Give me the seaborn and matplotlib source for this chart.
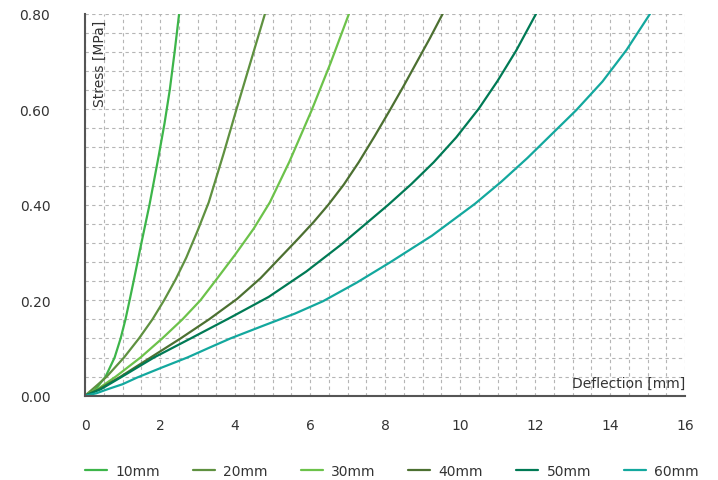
import matplotlib
matplotlib.use("Agg")
import matplotlib.pyplot as plt
import seaborn as sns
import pandas as pd
import numpy as np

# Stress-deflection curves per foam thickness
series = ["10mm", "20mm", "30mm", "40mm", "50mm", "60mm"]

x_10 = [0, 0.15, 0.28, 0.55, 0.79, 0.95, 1.08, 1.19, 1.31, 1.51, 1.72, 1.96, 2.12, 2.26, 2.39, 2.51]
y_10 = [0, 0.005, 0.0135, 0.04, 0.08, 0.12, 0.16, 0.20, 0.245, 0.322, 0.40, 0.50, 0.57, 0.64, 0.72, 0.80]

x_20 = [0, 0.33, 0.58, 1.04, 1.44, 1.8, 2.11, 2.42, 2.7, 3.0, 3.3, 3.7, 4.04, 4.42, 4.8]
y_20 = [0, 0.0225, 0.04, 0.08, 0.12, 0.16, 0.20, 0.244, 0.289, 0.345, 0.405, 0.508, 0.60, 0.70, 0.80]

x_30 = [0, 0.33, 0.82, 1.48, 2.06, 2.6, 3.08, 3.51, 4.0, 4.5, 4.93, 5.45, 6.04, 6.55, 7.04]
y_30 = [0, 0.0135, 0.04, 0.08, 0.12, 0.16, 0.20, 0.244, 0.295, 0.35, 0.405, 0.49, 0.597, 0.697, 0.80]

x_40 = [0, 0.37, 0.95, 1.75, 2.55, 3.31, 4.06, 4.68, 5.7, 6.1, 6.49, 6.9, 7.3, 7.72, 8.13,
        8.5, 8.85, 9.2, 9.54]
y_40 = [0, 0.0135, 0.04, 0.08, 0.12, 0.16, 0.203, 0.246, 0.33, 0.364, 0.40, 0.442, 0.489, 0.543, 0.598,
        0.649, 0.699, 0.749, 0.80]

x_50 = [0, 0.42, 0.99, 1.84, 2.82, 3.84, 4.9, 5.9, 6.84, 8.09, 8.7, 9.3, 9.9, 10.5, 11.0, 11.5, 12.03]
y_50 = [0, 0.0135, 0.04, 0.08, 0.12, 0.162, 0.207, 0.26, 0.317, 0.40, 0.443, 0.489, 0.541, 0.601,
        0.659, 0.723, 0.80]

x_60 = [0, 0.3, 0.6, 1.0, 1.39, 2.05, 2.73, 3.3, 3.88, 4.8, 5.6, 6.35, 7.25, 8.13, 9.25,
        10.4, 11.1, 11.8, 12.45, 13.1, 13.8, 14.44, 15.07]
y_60 = [0, 0.005, 0.0135, 0.024, 0.038, 0.059, 0.08, 0.10, 0.12, 0.148, 0.172, 0.198, 0.237, 0.279,
        0.335, 0.402, 0.448, 0.498, 0.548, 0.598, 0.658, 0.724, 0.80]

colors = ["#3db54a", "#5f9140", "#6cc24a", "#4c7031", "#007a55", "#13a89e"]

xs = [x_10, x_20, x_30, x_40, x_50, x_60]
ys = [y_10, y_20, y_30, y_40, y_50, y_60]
frames = []
for name, xv, yv in zip(series, xs, ys):
    frames.append(pd.DataFrame({"Deflection": xv, "Stress": yv, "Thickness": name}))
df = pd.concat(frames, ignore_index=True)

sns.set_style("white")
plt.rcParams["font.family"] = ["DejaVu Sans"]
text_color = "#333333"
fs = 10

fig = plt.figure(figsize=(7.18, 4.81), dpi=100)
ax = fig.add_axes([85 / 718, 1 - 396.7 / 481, 600 / 718, 382 / 481])

sns.lineplot(data=df, x="Deflection", y="Stress", hue="Thickness",
             palette=dict(zip(series, colors)), sort=False, estimator=None,
             linewidth=1.6, ax=ax, legend=True)
for line in ax.get_lines():
    line.set_solid_joinstyle("round")

ax.set_xlim(0, 16)
ax.set_ylim(0, 0.8)
ax.set_xticks(np.arange(0, 17, 2))
ax.set_yticks([0, 0.2, 0.4, 0.6, 0.8])
ax.set_yticklabels([f"{v:.2f}" for v in [0, 0.2, 0.4, 0.6, 0.8]])
ax.set_xticks(np.arange(0, 16.01, 0.5), minor=True)
ax.set_yticks(np.arange(0, 0.801, 0.04), minor=True)
ax.grid(which="both", color="#b5b5b5", linestyle=(0, (3, 3)), linewidth=0.8)
ax.set_axisbelow(True)
ax.tick_params(which="both", length=0)
ax.tick_params(axis="y", pad=25, labelsize=fs, labelcolor=text_color)
ax.tick_params(axis="x", pad=16, labelsize=fs, labelcolor=text_color)

for s in ["top", "right"]:
    ax.spines[s].set_visible(False)
for s in ["left", "bottom"]:
    ax.spines[s].set_color("#555555")
    ax.spines[s].set_linewidth(1.5)

ax.set_xlabel("")
ax.set_ylabel("")
ax.text(1.0, 0.014, "Deflection [mm]", transform=ax.transAxes, ha="right",
        va="bottom", fontsize=fs, color=text_color)
ax.text(0.025, 0.985, "Stress [MPa]", transform=ax.transAxes, ha="center",
        va="top", rotation=90, fontsize=fs, color=text_color)

handles, labels = ax.get_legend_handles_labels()
ax.legend_.remove()
fig.legend(handles, labels, loc="center left", bbox_to_anchor=(85 / 718, 1 - 472 / 481),
           ncol=6, frameon=False, fontsize=fs, handlelength=1.6,
           handletextpad=0.6, columnspacing=2.35, borderpad=0, borderaxespad=0,
           labelcolor=text_color)

fig.savefig("out.png", dpi=100)
